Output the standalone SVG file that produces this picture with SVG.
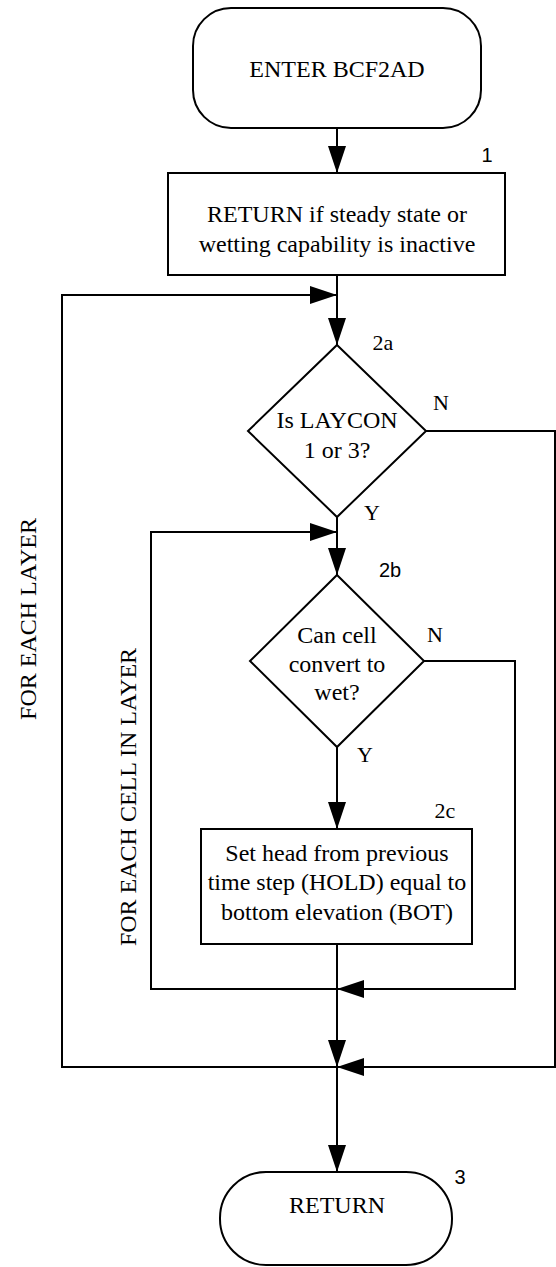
<svg xmlns="http://www.w3.org/2000/svg" width="556" height="1267" viewBox="0 0 556 1267">
<style>
.s{fill:#fff;stroke:#000;stroke-width:2}
.c{fill:none;stroke:#000;stroke-width:2}
.t{font-family:"Liberation Serif","Times New Roman",serif;font-size:24px;fill:#000;text-anchor:middle}
.l{font-family:"Liberation Serif","Times New Roman",serif;font-size:22px;fill:#000;text-anchor:middle}
.ls{font-family:"Liberation Sans",Arial,sans-serif;font-size:20px;fill:#000;text-anchor:middle}
</style>
<defs>
<marker id="ah" markerUnits="userSpaceOnUse" markerWidth="28" markerHeight="18" refX="27" refY="9" orient="auto">
<path d="M0,0 L27,9 L0,18 z" fill="#000"/>
</marker>
</defs>
<rect width="556" height="1267" fill="#fff"/>
<g id="connectors">
<path class="c" d="M337,128 V173" marker-end="url(#ah)"/>
<path class="c" d="M337,275 V345" marker-end="url(#ah)"/>
<path class="c" d="M336,1067 H62 V295 H337" marker-end="url(#ah)"/>
<path class="c" d="M426,431 H555 V1067 H337" marker-end="url(#ah)"/>
<path class="c" d="M337,517 V575" marker-end="url(#ah)"/>
<path class="c" d="M336,989 H151 V532 H337" marker-end="url(#ah)"/>
<path class="c" d="M424,661 H515 V989 H337" marker-end="url(#ah)"/>
<path class="c" d="M337,747 V829" marker-end="url(#ah)"/>
<path class="c" d="M337,944 V1067" marker-end="url(#ah)"/>
<path class="c" d="M337,1067 V1172" marker-end="url(#ah)"/>
</g>
<g id="n_enter">
<rect class="s" x="193" y="8" width="288" height="120" rx="38" ry="38"/>
<text class="t" x="337" y="77">ENTER BCF2AD</text>
</g>
<g id="n_1">
<rect class="s" x="168" y="173" width="337" height="102"/>
<text class="t" x="337" y="222">RETURN if steady state or</text>
<text class="t" x="337" y="252">wetting capability is inactive</text>
<text class="ls" x="487" y="162">1</text>
</g>
<g id="n_2a">
<polygon class="s" points="337,345 426,431 337,517 248,431"/>
<text class="t" x="337" y="428">Is LAYCON</text>
<text class="t" x="337" y="458">1 or 3?</text>
<text class="l" x="383" y="350">2a</text>
<text class="l" x="441" y="410">N</text>
<text class="l" x="372" y="520">Y</text>
</g>
<g id="n_2b">
<polygon class="s" points="337,575 424,661 337,747 250,661"/>
<text class="t" x="337" y="643">Can cell</text>
<text class="t" x="337" y="672">convert to</text>
<text class="t" x="337" y="700">wet?</text>
<text class="ls" x="390" y="577">2b</text>
<text class="l" x="435" y="642">N</text>
<text class="l" x="365" y="762">Y</text>
</g>
<g id="n_2c">
<rect class="s" x="201" y="829" width="271" height="115"/>
<text class="t" x="337" y="861">Set head from previous</text>
<text class="t" x="337" y="890">time step (HOLD) equal to</text>
<text class="t" x="337" y="920">bottom elevation (BOT)</text>
<text class="l" x="445" y="818">2c</text>
</g>
<g id="n_return">
<rect class="s" x="220" y="1172" width="232" height="93" rx="46" ry="46"/>
<text class="t" x="337" y="1213">RETURN</text>
<text class="ls" x="460" y="1184">3</text>
</g>
<g id="loop_labels">
<text class="t" transform="translate(36,619) rotate(-90)">FOR EACH LAYER</text>
<text class="t" transform="translate(136,797) rotate(-90)">FOR EACH CELL IN LAYER</text>
</g>
</svg>
